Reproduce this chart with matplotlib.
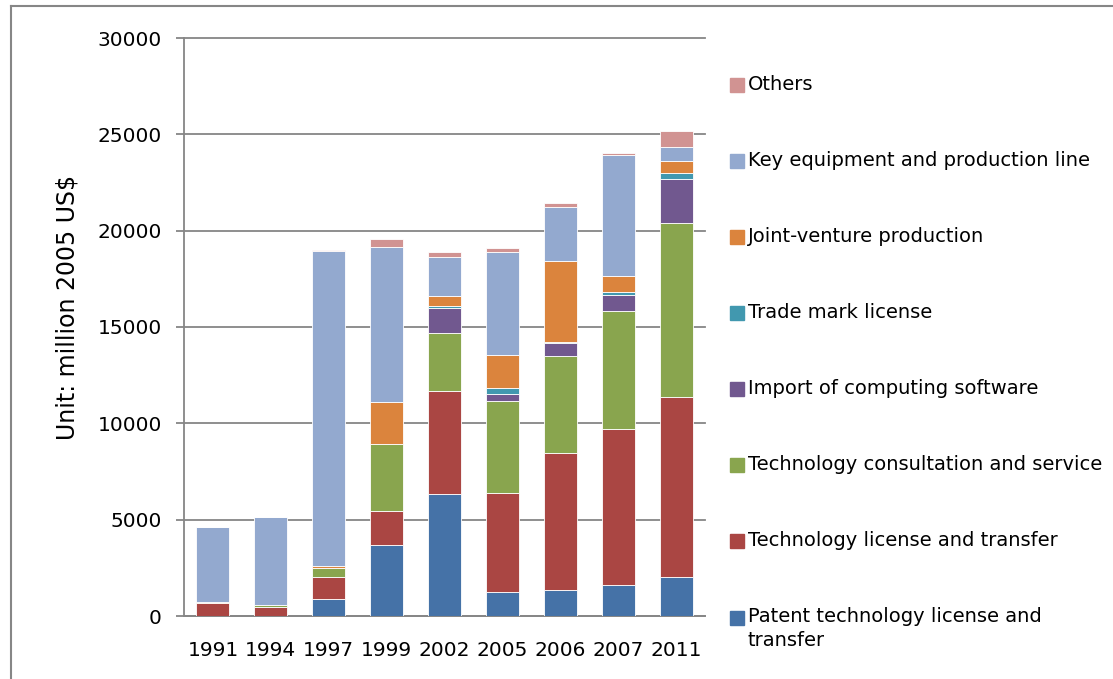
import numpy as np
import matplotlib
matplotlib.use("Agg")
import matplotlib.pyplot as plt
from matplotlib.patches import Rectangle
from matplotlib.lines import Line2D

# Data (million 2005 US$)
years = ['1991', '1994', '1997', '1999', '2002', '2005', '2006', '2007', '2011']
patent = [0, 0, 880, 3680, 6310, 1260, 1350, 1610, 2000]
license_transfer = [660, 480, 1120, 1780, 5350, 5110, 7090, 8110, 9350]
consultation = [0, 110, 490, 3480, 3010, 4770, 5050, 6120, 9040]
software = [0, 0, 0, 0, 1330, 400, 660, 830, 2300]
trademark = [0, 0, 0, 0, 90, 280, 90, 160, 280]
joint_venture = [80, 0, 110, 2180, 530, 1720, 4160, 830, 620]
key_equipment = [3860, 4560, 16340, 8010, 2030, 5370, 2810, 6280, 730]
others = [0, 0, 60, 430, 240, 170, 240, 100, 850]

series = [
    ('Patent technology license and\ntransfer', patent, '#4572A7'),
    ('Technology license and transfer', license_transfer, '#AA4643'),
    ('Technology consultation and service', consultation, '#89A54E'),
    ('Import of computing software', software, '#71588F'),
    ('Trade mark license', trademark, '#4198AF'),
    ('Joint-venture production', joint_venture, '#DB843D'),
    ('Key equipment and production line', key_equipment, '#93A9CF'),
    ('Others', others, '#D19392'),
]

W, H = 1113, 679
fig = plt.figure(figsize=(W / 100, H / 100), dpi=100)

def fx(px):
    return px / W

def fy(py):
    return 1 - py / H

ax = fig.add_axes([fx(184), fy(616), fx(705) - fx(184), fy(38) - fy(616)])

grey = '#868686'
x = np.arange(len(years))
bottom = np.zeros(len(years))
for label, vals, color in series:
    vals = np.array(vals, dtype=float)
    ax.bar(x, vals, width=0.57, bottom=bottom, color=color,
           edgecolor='white', linewidth=0.6, zorder=3)
    bottom += vals

ax.set_xlim(-0.5, len(years) - 0.5)
ax.set_ylim(0, 30000)
ax.set_yticks(np.arange(0, 30001, 5000))
ax.set_xticks(x)
ax.set_xticklabels(years)
ax.yaxis.grid(True, color=grey, linewidth=1.3, zorder=0)
ax.set_axisbelow(True)
for gl in ax.get_ygridlines():
    gl.set_clip_on(False)
for s in ['top', 'right']:
    ax.spines[s].set_visible(False)
for s in ['left', 'bottom']:
    ax.spines[s].set_color(grey)
    ax.spines[s].set_linewidth(1.3)
ax.tick_params(axis='y', direction='out', length=6, width=1.3, color=grey,
               labelsize=14.5, pad=10)
ax.tick_params(axis='x', length=0, labelsize=14.5, pad=18)
ax.set_ylabel('Unit: million 2005 US$', fontsize=17)
ax.yaxis.set_label_coords(-0.2, 0.533)

# legend drawn by hand, top entry first
row_y = [85, 161, 237, 313, 389, 465, 541, 618]
for (label, vals, color), ry in zip(series[::-1], row_y):
    fig.add_artist(Rectangle((fx(730), fy(ry + 7)), fx(14), fy(ry - 7) - fy(ry + 7),
                             transform=fig.transFigure, color=color))
    if '\n' in label:
        fig.text(fx(748), fy(ry - 11), label, fontsize=14, va='top', ha='left',
                 linespacing=1.33)
    else:
        fig.text(fx(748), fy(ry), label, fontsize=14, va='center', ha='left')

# chart frame (top and left edges visible)
fig.add_artist(Line2D([fx(11), fx(11)], [fy(6), 0], transform=fig.transFigure,
                      color=grey, linewidth=1.5))
fig.add_artist(Line2D([fx(11), 1], [fy(6), fy(6)], transform=fig.transFigure,
                      color=grey, linewidth=1.5))

fig.savefig('out.png', dpi=100)
